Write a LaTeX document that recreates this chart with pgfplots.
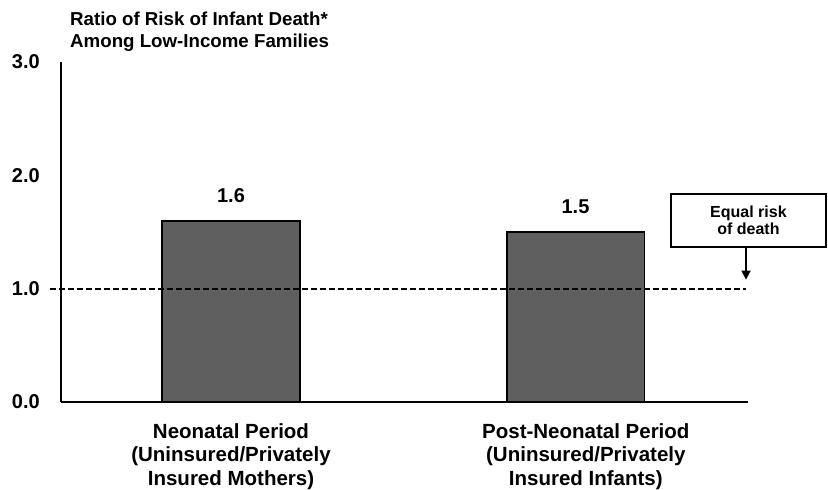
\documentclass[border=0pt]{standalone}
\usepackage{pgfplots}
\pgfplotsset{compat=1.18}
\usepackage{fontspec}
\setmainfont{Liberation Sans}
\usetikzlibrary{arrows.meta}
\definecolor{barfill}{HTML}{5F5F5F}
\begin{document}
\begin{tikzpicture}
\useasboundingbox (-61pt,-88pt) rectangle (767pt,402pt);
\begin{axis}[
  scale only axis,
  width=687pt, height=340pt,
  xmin=-0.4935, xmax=1.5007,
  ymin=0, ymax=3,
  axis x line=bottom, axis y line=left,
  axis line style={-, line width=2pt, black},
  clip=false,
  ytick={0,1,2,3},
  xtick={0,1.03},
  xticklabels={{Neonatal Period\\(Uninsured/Privately\\Insured Mothers)},{Post-Neonatal Period\\(Uninsured/Privately\\Insured Infants)}},
  tick style={draw=none},
  major tick length=0pt,
  /pgf/number format/assume math mode=true,
  yticklabel style={font=\bfseries\fontsize{20}{24}\selectfont, anchor=east, inner sep=0pt, xshift=-21pt,
    /pgf/number format/.cd, fixed, fixed zerofill, precision=1},
  xticklabel style={font=\bfseries\fontsize{20.5}{23.5}\selectfont, align=center, anchor=north, inner sep=0pt, yshift=-21pt},
]
\addplot[ybar, bar width=0.4, fill=barfill, draw=black, line width=1.8pt,
  nodes near coords,
  every node near coord/.append style={font=\bfseries\fontsize{20}{24}\selectfont, inner sep=0pt, yshift=17pt, black,
    /pgf/number format/.cd, fixed, fixed zerofill, precision=1}]
  coordinates {(0,1.6) (1,1.5)};
\addplot[black, no marks, line width=1.8pt, dash pattern=on 5.5pt off 3.5pt]
  coordinates {(-0.5254,1) (1.4949,1)};
\node[draw=black, line width=1.6pt, minimum width=155pt, minimum height=53pt, align=center, fill=white,
  font=\bfseries\fontsize{16}{17.5}\selectfont, inner sep=0pt] at (axis cs:1.502,1.6015) {Equal risk\\of death};
\draw[line width=1.6pt, -{Triangle[width=9pt,length=9pt]}] (axis cs:1.4949,1.359) -- (axis cs:1.4949,1.08);
\end{axis}
\node[anchor=north west, inner sep=0pt, align=left, font=\bfseries\fontsize{18.7}{22}\selectfont] at (9pt,390pt)
  {Ratio of Risk of Infant Death*\\Among Low-Income Families};
\end{tikzpicture}
\end{document}
